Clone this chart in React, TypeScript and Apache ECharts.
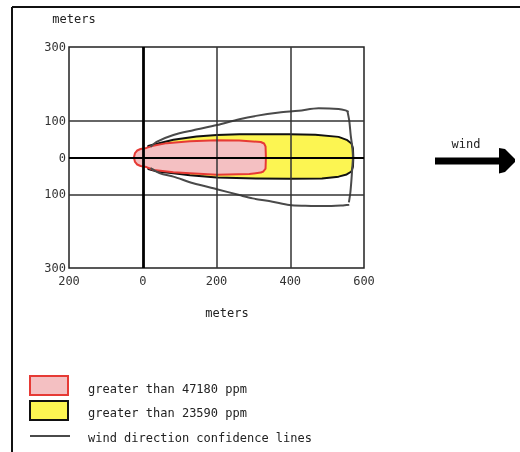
import React, { useEffect, useRef } from "react";
import * as echarts from "echarts";

// axis ticks
const xTicks = [-200, 0, 200, 400, 600];
const yTickLabels = [-300, -100, 0, 100, 300];
const gridXLines = [200, 400];
const gridYLines = [-100, 100];

// threat zones (meters downwind, meters crosswind)
const redZone: number[][] = [
  [-6, 23], [10, 26], [25, 31], [65, 39], [128, 44], [201, 47], [262, 46], [320, 42],
  [329, 38], [333, 30], [334, 0], [333, -30], [327, -38], [320, -41], [289, -45],
  [201, -47], [128, -43], [83, -40], [30, -34], [10, -26], [-6, -23], [-15, -19],
  [-21, -12], [-24, 0], [-21, 12], [-15, 19],
];
const yellowZone: number[][] = [
  [15, 31], [25, 34], [83, 48], [146, 57], [201, 61], [262, 63], [397, 63], [468, 62],
  [531, 56], [553, 48], [566, 38], [570, 25], [571, 0], [570, -25], [566, -38],
  [553, -46], [531, -52], [486, -57], [397, -58], [307, -57], [201, -54], [128, -48],
  [83, -43], [39, -38], [15, -31],
];
// wind direction confidence lines
const confTop: number[][] = [
  [21, 29], [39, 43], [83, 61], [137, 74], [201, 88], [262, 104], [307, 113], [370, 122],
  [423, 127], [477, 134], [531, 132], [550, 128], [558, 124],
];
const confBottom: number[][] = [
  [21, -29], [47, -43], [83, -52], [137, -70], [201, -86], [262, -102], [298, -111],
  [352, -120], [397, -129], [441, -131], [495, -132], [540, -130], [560, -128],
];
const confArc: number[][] = [
  [555, 126], [560, 100], [564, 60], [568, 30], [570, 0], [568, -30], [566, -60],
  [563, -95], [559, -122],
];

const legendItems = [
  "greater than 47180 ppm",
  "greater than 23590 ppm",
  "wind direction confidence lines",
];

const FONT = "DejaVu Sans Mono";
const RED_FILL = "#f4c0c2";
const RED_STROKE = "#e63a35";
const YELLOW_FILL = "#fcf552";
const CONF_COLOR = "#4a4a4a";

export default function App() {
  const ref = useRef<HTMLDivElement>(null);
  useEffect(() => {
    const chart = echarts.init(ref.current!, null, { renderer: "svg" });

    const polygonSeries = (name: string, pts: number[][], fill: string, stroke: string, z: number) => ({
      type: "custom",
      name,
      z,
      silent: true,
      clip: false,
      data: [0],
      renderItem: (_params: any, api: any) => ({
        type: "polygon",
        shape: { points: pts.map((p) => api.coord(p)) },
        style: { fill, stroke, lineWidth: 2, lineJoin: "round" },
      }),
    });

    const confLine = (name: string, pts: number[][], extra: any = {}) => ({
      type: "line",
      name,
      data: pts,
      symbol: "none",
      smooth: 0.3,
      silent: true,
      z: 4,
      lineStyle: { color: CONF_COLOR, width: 2 },
      ...extra,
    });

    const txt = { fontFamily: FONT, fontSize: 12, fill: "#222" };

    chart.setOption({
      animation: false,
      grid: {
        left: 69,
        top: 47,
        width: 295,
        height: 221,
        show: true,
        borderColor: "#222",
        borderWidth: 1.5,
        backgroundColor: "transparent",
      },
      xAxis: {
        type: "value",
        min: xTicks[0],
        max: xTicks[xTicks.length - 1],
        interval: 200,
        axisLine: { show: false },
        axisTick: { show: false },
        splitLine: { show: false },
        axisLabel: {
          margin: 7,
          fontFamily: FONT,
          fontSize: 12,
          color: "#333",
          formatter: (v: number) => String(Math.abs(v)),
        },
      },
      yAxis: {
        type: "value",
        min: -300,
        max: 300,
        interval: 100,
        axisLine: { show: false },
        axisTick: { show: false },
        splitLine: { show: false },
        axisLabel: {
          margin: 3,
          fontFamily: FONT,
          fontSize: 12,
          color: "#333",
          formatter: (v: number) => (yTickLabels.includes(v) ? String(Math.abs(v)) : ""),
        },
      },
      series: [
        polygonSeries("greater than 23590 ppm", yellowZone, YELLOW_FILL, "#111", 2),
        polygonSeries("greater than 47180 ppm", redZone, RED_FILL, RED_STROKE, 3),
        confLine("confidence upper", confTop, {
          markLine: {
            silent: true,
            symbol: ["none", "none"],
            label: { show: false },
            lineStyle: { color: "#333", width: 1.5, type: "solid" },
            data: [
              ...gridXLines.map((x) => ({ xAxis: x })),
              ...gridYLines.map((y) => ({ yAxis: y })),
              { xAxis: 0, lineStyle: { color: "#000", width: 2.8, type: "solid" } },
              { yAxis: 0, lineStyle: { color: "#000", width: 2.2, type: "solid" } },
            ],
          },
        }),
        confLine("confidence lower", confBottom),
        confLine("confidence arc", confArc),
      ],
      graphic: [
        { type: "line", shape: { x1: 12, y1: 7, x2: 520, y2: 7 }, style: { stroke: "#111", lineWidth: 2 } },
        { type: "line", shape: { x1: 12, y1: 7, x2: 12, y2: 452 }, style: { stroke: "#111", lineWidth: 2 } },
        { type: "text", x: 74, y: 19, style: { ...txt, text: "meters", align: "center", verticalAlign: "middle" } },
        { type: "text", x: 227, y: 313, style: { ...txt, text: "meters", align: "center", verticalAlign: "middle" } },
        { type: "text", x: 466, y: 144, style: { ...txt, text: "wind", align: "center", verticalAlign: "middle" } },
        { type: "rect", shape: { x: 435, y: 157.5, width: 66, height: 7 }, style: { fill: "#000" } },
        {
          type: "polygon",
          shape: { points: [[499, 148], [505, 149], [515, 159], [515, 162], [505, 172], [499, 173.5]] },
          style: { fill: "#000" },
        },
        { type: "rect", shape: { x: 30, y: 376, width: 38, height: 19 }, style: { fill: RED_FILL, stroke: RED_STROKE, lineWidth: 2 } },
        { type: "rect", shape: { x: 30, y: 401, width: 38, height: 19 }, style: { fill: YELLOW_FILL, stroke: "#111", lineWidth: 2 } },
        { type: "line", shape: { x1: 30, y1: 436, x2: 70, y2: 436 }, style: { stroke: CONF_COLOR, lineWidth: 2 } },
        { type: "text", x: 88, y: 389, style: { ...txt, text: legendItems[0], verticalAlign: "middle" } },
        { type: "text", x: 88, y: 413, style: { ...txt, text: legendItems[1], verticalAlign: "middle" } },
        { type: "text", x: 88, y: 438, style: { ...txt, text: legendItems[2], verticalAlign: "middle" } },
      ],
    });
    return () => chart.dispose();
  }, []);
  return <div ref={ref} style={{ position: "fixed", left: 0, top: 0, width: 520, height: 452 }} />;
}
